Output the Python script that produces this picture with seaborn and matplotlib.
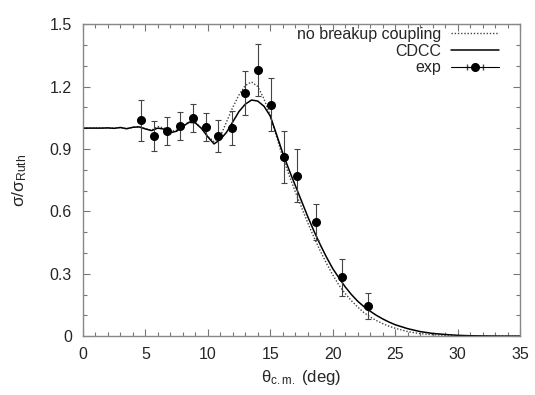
import numpy as np
import pandas as pd
import seaborn as sns
import matplotlib.pyplot as plt
from matplotlib.lines import Line2D
from matplotlib.collections import LineCollection
from matplotlib.container import ErrorbarContainer

# experimental points (theta c.m. in deg, sigma/sigma_Ruth, error)
exp_theta = [4.64, 5.66, 6.73, 7.74, 8.78, 9.83, 10.84, 11.9, 12.95, 13.99,
             15.03, 16.07, 17.11, 18.69, 20.72, 22.8]
exp_sigma = [1.038, 0.963, 0.987, 1.01, 1.048, 1.006, 0.962, 1.0, 1.17, 1.279,
             1.112, 0.862, 0.772, 0.547, 0.282, 0.144]
exp_err = [0.098, 0.072, 0.067, 0.067, 0.068, 0.068, 0.075, 0.08, 0.105, 0.125,
           0.128, 0.125, 0.128, 0.087, 0.087, 0.063]

# calculations
calc_theta = [0, 0.5, 1, 1.5, 2, 2.5, 3, 3.5, 4, 4.5, 5, 5.5, 6, 6.5, 7, 7.5, 8,
              8.5, 9, 9.5, 10, 10.5, 11, 11.5, 12, 12.5, 13, 13.5, 14, 14.5, 15,
              15.5, 16, 16.5, 17, 17.5, 18, 18.5, 19, 19.5, 20, 20.5, 21, 21.5,
              22, 22.5, 23, 23.5, 24, 24.5, 25, 26, 27, 28, 29, 30, 31, 32, 33,
              34, 35]
cdcc = [1.0, 1.0, 1.0, 1.0, 1.001, 0.999, 1.003, 0.997, 1.004, 1.006, 0.996,
        0.988, 1.0, 0.995, 0.978, 0.985, 1.008, 1.028, 1.025, 0.998, 0.958,
        0.924, 0.945, 0.98, 1.03, 1.08, 1.115, 1.135, 1.13, 1.105, 1.058,
        0.97, 0.88, 0.80, 0.725, 0.65, 0.575, 0.505, 0.44, 0.38, 0.325, 0.28,
        0.237, 0.20, 0.168, 0.142, 0.12, 0.10, 0.083, 0.068, 0.055, 0.036,
        0.022, 0.013, 0.008, 0.004, 0.002, 0.001, 0.0005, 0.0002, 0.0001]
no_breakup = [1.0, 1.0, 1.0, 1.0, 1.001, 0.999, 1.003, 0.997, 1.004, 1.006,
              0.998, 0.99, 1.008, 1.0, 0.985, 0.99, 1.01, 1.03, 1.028, 1.0,
              0.96, 0.935, 0.96, 1.03, 1.1, 1.16, 1.205, 1.222, 1.20, 1.14,
              1.06, 0.96, 0.86, 0.775, 0.695, 0.62, 0.545, 0.475, 0.41, 0.35,
              0.295, 0.245, 0.205, 0.17, 0.14, 0.113, 0.092, 0.075, 0.06,
              0.048, 0.038, 0.022, 0.012, 0.007, 0.004, 0.002, 0.001, 0.0005,
              0.0002, 0.0001, 0.0]

df = pd.DataFrame({'theta': calc_theta, 'cdcc': cdcc, 'nobu': no_breakup})

sns.set_style('ticks')
plt.rcParams['font.family'] = ['Liberation Sans', 'DejaVu Sans']
plt.rcParams['mathtext.fontset'] = 'custom'
plt.rcParams['mathtext.rm'] = 'Liberation Sans'
plt.rcParams['mathtext.it'] = 'Liberation Sans'

fig = plt.figure(figsize=(5.35, 3.95), dpi=100)
ax = fig.add_axes([0.155, 0.149, 0.817, 0.790])

sns.lineplot(data=df, x='theta', y='nobu', ax=ax, color='#444444',
             linestyle=(0, (1, 1.3)), lw=1.0, estimator=None)
sns.lineplot(data=df, x='theta', y='cdcc', ax=ax, color='black', lw=1.1,
             estimator=None)
ax.errorbar(exp_theta, exp_sigma, yerr=exp_err, fmt='o', color='black',
            ms=5.5, elinewidth=0.8, ecolor='#444444', capsize=2.5, capthick=0.8)

ax.set_xlim(0, 35)
ax.set_ylim(0, 1.5)
ax.set_xticks(np.arange(0, 36, 5))
ax.set_xticks(np.arange(0, 36, 1), minor=True)
ax.set_yticks([0, 0.3, 0.6, 0.9, 1.2, 1.5])
ax.set_yticklabels(['0', '0.3', '0.6', '0.9', '1.2', '1.5'])
ax.set_yticks(np.arange(0, 1.51, 0.1), minor=True)
ax.tick_params(which='both', direction='in', top=True, right=True,
               color='#777777', labelsize=11.5, pad=8)
ax.tick_params(which='major', length=5, width=0.8)
ax.tick_params(which='minor', length=3, width=0.8)
for s in ax.spines.values():
    s.set_color('#888888')
    s.set_linewidth(1.0)

ax.set_xlabel(r'θ$_{\mathrm{c.m.}}$ (deg)', fontsize=12, labelpad=4)
ax.set_ylabel(r'σ/σ$_{\mathrm{Ruth}}$', fontsize=12.5, labelpad=15)

# legend in gnuplot fashion: text first, sample after
h_nobu = Line2D([], [], color='#444444', linestyle=(0, (1, 1.3)), lw=1.0)
h_cdcc = Line2D([], [], color='black', lw=1.1)
pl = Line2D([], [], color='black', marker='o', ms=5.5, lw=0.8)
cap = Line2D([], [], color='#444444', marker='|', ms=5)
bars = LineCollection([], colors='#444444', linewidths=0.8)
h_exp = ErrorbarContainer((pl, (cap,), (bars,)), has_xerr=True, has_yerr=False)
ax.legend([h_nobu, h_cdcc, h_exp], ['no breakup coupling', 'CDCC', 'exp'],
          loc='upper right', bbox_to_anchor=(0.952, 0.992), frameon=False,
          markerfirst=False, fontsize=11.5, handlelength=3.0,
          labelspacing=0.12, borderaxespad=0, borderpad=0,
          handletextpad=0.6)

fig.savefig('out.png', dpi=100)
